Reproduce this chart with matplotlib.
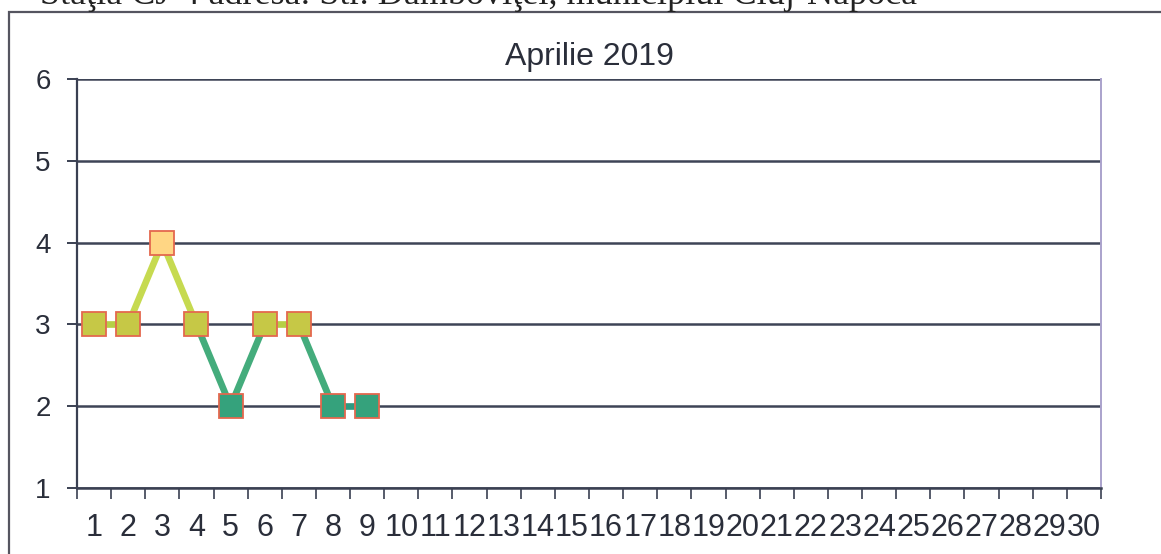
import numpy as np
import matplotlib
matplotlib.use("Agg")
import matplotlib.pyplot as plt
from matplotlib.colors import LinearSegmentedColormap
from matplotlib.patches import Rectangle

# data
days = list(range(1, 31))
day_labels = [str(d) for d in days]
measured_days = [1, 2, 3, 4, 5, 6, 7, 8, 9]
values = [3, 3, 4, 3, 2, 3, 3, 2, 2]
yticks = [1, 2, 3, 4, 5, 6]
title = "Aprilie 2019"
header = "Staţia CJ-4 adresa: Str. Dâmboviţei, municipiul Cluj-Napoca"

# colours depend on the value (green = low, yellow/orange = high)
marker_cmap = LinearSegmentedColormap.from_list(
    "mk", [(0.0, "#35a27c"), (0.5, "#c6c846"), (1.0, "#ffd684")])
line_cmap = LinearSegmentedColormap.from_list(
    "ln", [(0.0, "#2c9a80"), (0.25, "#44ac7c"), (0.5, "#b6d046"), (0.75, "#c6da50"), (1.0, "#d8e060")])
vmin, vmax = 2, 4

fig = plt.figure(figsize=(11.61, 5.54), dpi=100)
plt.rcParams['font.family'] = ['Liberation Sans', 'DejaVu Sans']

# outer frame of the scanned box and the cut-off header line
fig.patches.append(Rectangle((9 / 1161, -0.2), 1.2, 1.2 - 12 / 554, transform=fig.transFigure,
                             fill=False, edgecolor="#555560", lw=1.6))
fig.text(40 / 1161, 1 - 4 / 554, header, family="Liberation Serif", fontsize=26,
         va="baseline", ha="left", color="#222222")

ax = fig.add_axes([77 / 1161, 1 - 488 / 554, 1024 / 1161, 409 / 554])
ax.set_xlim(0.5, 30.5)
ax.set_ylim(1, 6)

# grid lines
for y in yticks:
    ax.axhline(y, color="#3e4456", lw=1.8, zorder=1)

# connecting segments, coloured per segment
for i in range(len(values) - 1):
    mid = (values[i] + values[i + 1]) / 2
    c = line_cmap((mid - vmin) / (vmax - vmin))
    ax.plot(measured_days[i:i + 2], values[i:i + 2], color=c, lw=4.8,
            solid_capstyle="butt", zorder=2)

for d, v in zip(measured_days, values):
    ax.plot(d, v, marker="s", markersize=17, markerfacecolor=marker_cmap((v - vmin) / (vmax - vmin)),
            markeredgecolor="#e4684e", markeredgewidth=1.3, zorder=3)

ax.spines["top"].set_visible(False)
ax.spines["left"].set_color("#3a4052")
ax.spines["left"].set_linewidth(1.6)
ax.spines["bottom"].set_color("#3a4052")
ax.spines["bottom"].set_linewidth(1.8)
ax.spines["right"].set_color("#aaa2cc")
ax.spines["right"].set_linewidth(1.4)

ax.set_yticks(yticks)
ax.set_yticklabels([str(y) for y in yticks], fontsize=20, color="#2a2e3a")
ax.tick_params(axis="y", length=7, width=1.4, color="#3a4052", pad=12)

ax.set_xticks([d - 0.5 for d in days] + [30.5])
ax.set_xticklabels([])
ax.set_xticks(days, minor=True)
ax.set_xticklabels(day_labels, minor=True, fontsize=22, color="#2a2e3a")
ax.tick_params(axis="x", which="major", length=8, width=1.2, color="#3a4052")
ax.tick_params(axis="x", which="minor", length=0, pad=18)

ax.set_title(title, fontsize=23, color="#2a2e3a", pad=10)

plt.savefig("out.png", dpi=100)
